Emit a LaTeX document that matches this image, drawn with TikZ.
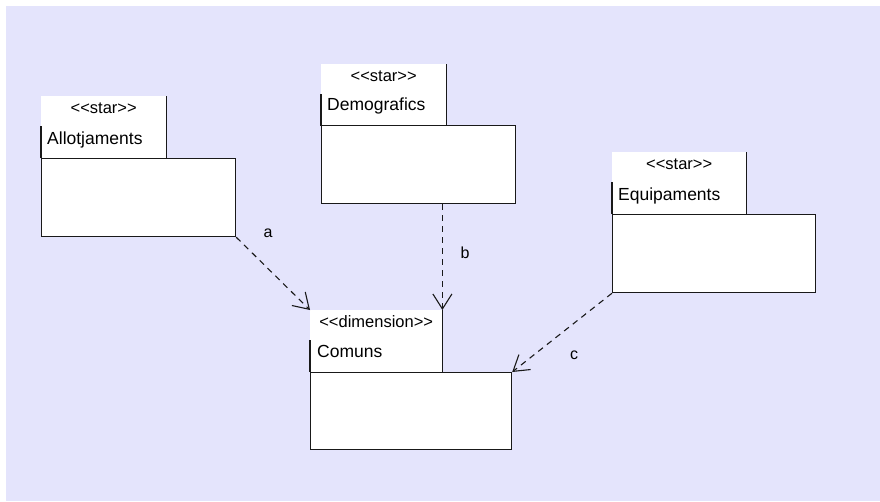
\documentclass[tikz,border=0pt]{standalone}
\usepackage{fontspec}
\newfontfamily\umlfont{Liberation Sans}
\usetikzlibrary{arrows.meta}
\definecolor{canvas}{RGB}{228,228,252}
\definecolor{ink}{RGB}{25,25,25}
\begin{document}
\begin{tikzpicture}[x=1pt,y=-1pt,
  tabbox/.style={fill=white, inner sep=0pt, anchor=north west,
    minimum width=#1, minimum height=62pt},
  bodybox/.style={draw=ink, line width=1.2pt, fill=white, inner sep=0pt,
    anchor=north west, minimum width=#1, minimum height=78pt},
  tabedge/.style={draw=ink, line width=1.1pt},
  stereo/.style={font=\umlfont\fontsize{16.5}{16.5}\selectfont, anchor=base, inner sep=0pt},
  pkgname/.style={font=\umlfont\fontsize{17.5}{17.5}\selectfont, anchor=base west, inner sep=0pt},
  dep/.style={draw=ink, line width=1.1pt, dash pattern=on 6pt off 5pt,
    -{Straight Barb[length=15pt,width=19pt,line width=1.1pt]}},
  deplabel/.style={font=\umlfont\fontsize{16}{16}\selectfont, inner sep=0pt}
]
% canvas
\useasboundingbox (0,0) rectangle (880,501);
\fill[white] (0,0) rectangle (880,501);
\fill[canvas] (6,6) rectangle (880,501);

% package Allotjaments
\node[tabbox=125pt] (alloTab) at (41,96) {};
\node[bodybox=194pt] (alloBody) at (41,158) {};
\draw[tabedge] (alloTab.north east) -- (alloTab.south east);
\draw[tabedge] ([yshift=-30pt]alloTab.north west) -- (alloTab.south west);
\node[stereo] (alloSt) at ([yshift=-17pt]alloTab.north) {<<star>>};
\node[pkgname] (alloNm) at ([xshift=6pt,yshift=-48pt]alloTab.north west) {Allotjaments};

% package Demografics
\node[tabbox=125pt] (demTab) at (321,64) {};
\node[bodybox=194pt] (demBody) at (321,125) {};
\draw[tabedge] (demTab.north east) -- (demTab.south east);
\draw[tabedge] ([yshift=-30pt]demTab.north west) -- (demTab.south west);
\node[stereo] (demSt) at ([yshift=-17pt]demTab.north) {<<star>>};
\node[pkgname] (demNm) at ([xshift=6pt,yshift=-46pt]demTab.north west) {Demografics};

% package Equipaments
\node[tabbox=134pt] (eqTab) at (612,152) {};
\node[bodybox=203pt] (eqBody) at (612,214) {};
\draw[tabedge] (eqTab.north east) -- (eqTab.south east);
\draw[tabedge] ([yshift=-30pt]eqTab.north west) -- (eqTab.south west);
\node[stereo] (eqSt) at ([yshift=-17pt]eqTab.north) {<<star>>};
\node[pkgname] (eqNm) at ([xshift=6pt,yshift=-48pt]eqTab.north west) {Equipaments};

% package Comuns
\node[tabbox=132pt] (comTab) at (310,310) {};
\node[bodybox=201pt, minimum height=77pt] (comBody) at (310,372) {};
\draw[tabedge] (comTab.north east) -- (comTab.south east);
\draw[tabedge] ([yshift=-30pt]comTab.north west) -- (comTab.south west);
\node[stereo] (comSt) at ([yshift=-17pt]comTab.north) {<<dimension>>};
\node[pkgname] (comNm) at ([xshift=7pt,yshift=-47pt]comTab.north west) {Comuns};

% dependencies
\draw[dep] (alloBody.south east) -- (comTab.north west);
\draw[dep] (demBody.south -| comTab.north east) -- (comTab.north east);
\draw[dep] (eqBody.south west) -- (comBody.north east);

\node[deplabel] (la) at (268,233) {a};
\node[deplabel] (lb) at (465,253) {b};
\node[deplabel] (lc) at (574,355) {c};
\end{tikzpicture}
\end{document}
